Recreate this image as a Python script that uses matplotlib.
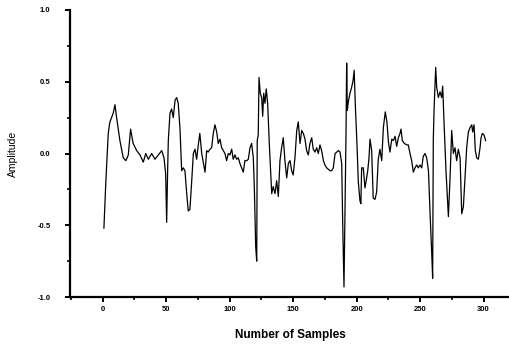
import matplotlib
matplotlib.use("Agg")
import matplotlib.pyplot as plt
from matplotlib.ticker import MultipleLocator, FormatStrFormatter

samples = [1, 2.5, 4.4, 5.7, 7, 8.3, 9.7, 11, 13.6, 16.2, 18.3, 20.2, 22, 24, 26.8, 29.4,
           32, 33.9, 36, 38.6, 41.2, 43.8, 46.5, 48.3, 49.6, 50.4, 51.2, 51.7, 53, 54.3,
           55.6, 57, 58.3, 59.5, 60.9, 62.2, 63.5, 64.8, 66.1, 67.4, 68.7, 70, 71.4, 72.7,
           74, 75.3, 76.5, 78, 79.2, 80.6, 81.9, 83.1, 84.5, 85.8, 87.1, 88.4, 89.8, 91,
           92.4, 93.7, 95, 96.3, 97.6, 98.9, 100.2, 101.6, 102.8, 104.2, 105.5, 106.8,
           108.1, 109.4, 110.7, 112, 113.4, 114.7, 116, 117.3, 118.6, 119.4, 120.5, 121.3,
           121.7, 122.5, 123.1, 124.1, 125.2, 126, 126.8, 127.8, 128.8, 129.9, 131.2,
           133.1, 134.3, 135.7, 137, 138.3, 139.6, 140.9, 142.2, 143.5, 144.9, 146.2,
           147.5, 148.8, 150, 151.4, 152.8, 154, 155.4, 156.7, 158, 159.3, 160.6, 161.9,
           163.2, 164.6, 165.8, 167.2, 168.5, 169.8, 171.1, 172.4, 173.8, 175, 176.4,
           177.7, 179, 180.3, 181.6, 183, 184.3, 185.6, 186.9, 188.2, 189, 190, 190.8,
           191.6, 192.1, 192.6, 193.4, 194.7, 196, 197.2, 198, 199, 200.2, 201.3, 202.6,
           203.3, 203.9, 205.2, 206.5, 207.3, 208.7, 209.7, 210.5, 211.8, 213, 214.4,
           215.7, 217, 218.3, 219.7, 221, 222.5, 223.8, 225, 226.2, 227.6, 228.9, 230.2,
           231.5, 232.8, 234.1, 234.9, 235.9, 237.5, 239.4, 240.6, 242, 243.3, 244.6,
           245.9, 247.2, 248.5, 249.8, 251.2, 252.4, 253.8, 255.1, 256.5, 257.7, 259.1,
           259.8, 260.3, 260.9, 261.7, 262.2, 263, 264.3, 265.6, 266.9, 267.7, 268.8,
           270.3, 272.2, 273.5, 274.8, 276.1, 277.4, 278.7, 280, 281.4, 282.7, 284, 285.3,
           286.6, 287.9, 289.2, 290.6, 291.3, 292.4, 293.4, 294.5, 295.8, 297.1, 297.9,
           298.9, 300.2, 301.5]

amplitude = [-0.52, -0.2, 0.14, 0.22, 0.25, 0.28, 0.34, 0.25, 0.09, -0.03, -0.05, -0.01,
             0.17, 0.07, 0.02, -0.01, -0.06, 0.0, -0.04, 0.0, -0.04, -0.01, 0.02, -0.03,
             -0.14, -0.48, -0.1, 0.09, 0.28, 0.31, 0.25, 0.37, 0.39, 0.35, 0.17, -0.12,
             -0.10, -0.12, -0.27, -0.40, -0.39, -0.21, 0.0, 0.03, -0.04, 0.06, 0.14, 0.0,
             -0.06, -0.13, 0.02, 0.01, 0.03, 0.04, 0.14, 0.20, 0.15, 0.07, 0.10, 0.04, 0.02,
             0.0, -0.05, 0.0, -0.01, 0.03, -0.04, -0.01, -0.04, -0.03, -0.07, -0.10, -0.13,
             -0.05, -0.05, -0.04, 0.04, 0.07, -0.03, -0.23, -0.65, -0.75, 0.09, 0.13, 0.53,
             0.42, 0.39, 0.26, 0.42, 0.35, 0.45, 0.35, 0.07, -0.28, -0.23, -0.28, -0.19,
             -0.30, -0.05, 0.04, 0.11, -0.05, -0.17, -0.07, -0.05, -0.12, -0.15, -0.03,
             0.16, 0.22, 0.07, 0.16, 0.14, 0.10, 0.02, -0.01, 0.07, 0.11, 0.03, 0.01, 0.04,
             0.0, 0.06, 0.02, -0.05, -0.08, -0.10, -0.11, -0.12, -0.12, -0.10, 0.0, 0.01,
             0.02, 0.01, -0.07, -0.49, -0.93, -0.40, 0.14, 0.63, 0.30, 0.36, 0.42, 0.46,
             0.51, 0.58, 0.32, 0.07, -0.20, -0.33, -0.35, -0.10, -0.10, -0.24, -0.20, -0.12,
             -0.03, 0.10, 0.02, -0.31, -0.32, -0.27, -0.04, 0.03, -0.05, 0.18, 0.29, 0.22,
             0.08, 0.01, 0.10, 0.09, 0.12, 0.05, 0.11, 0.14, 0.17, 0.09, 0.07, 0.06, 0.06,
             0.0, -0.05, -0.13, -0.10, -0.08, -0.10, -0.08, -0.10, -0.02, 0.0, -0.03, -0.12,
             -0.40, -0.70, -0.87, 0.09, 0.30, 0.49, 0.60, 0.46, 0.39, 0.43, 0.39, 0.47, 0.21,
             -0.12, -0.44, -0.17, 0.16, 0.0, 0.04, -0.05, 0.03, -0.03, -0.42, -0.37, -0.17,
             0.04, 0.15, 0.18, 0.20, 0.15, 0.20, 0.02, -0.03, -0.04, 0.04, 0.11, 0.14, 0.13,
             0.09]

x_ticks = [0, 50, 100, 150, 200, 250, 300]
y_ticks = [-1.0, -0.5, 0.0, 0.5, 1.0]

fig = plt.figure(figsize=(5.1, 3.5), dpi=100)
ax = fig.add_axes([70/510, 1 - 297/350, 440/510, 287/350])
ax.plot(samples, amplitude, color="black", linewidth=0.9)

ax.set_xlim(-25.7, 320.7)
ax.set_ylim(-1.0, 1.0)
ax.set_xticks(x_ticks)
ax.set_yticks(y_ticks)
ax.xaxis.set_minor_locator(MultipleLocator(25))
ax.yaxis.set_minor_locator(MultipleLocator(0.25))
ax.yaxis.set_major_formatter(FormatStrFormatter("%.1f"))

for s in ["top", "right"]:
    ax.spines[s].set_visible(False)
for s in ["left", "bottom"]:
    ax.spines[s].set_linewidth(1.6)

ax.tick_params(which="major", direction="out", length=3.6, width=1.4, labelsize=5.5)
ax.tick_params(axis="x", which="major", pad=3.2)
ax.tick_params(axis="y", which="major", pad=10.4)
ax.tick_params(which="minor", direction="out", length=2.2, width=1.2)
for lab in ax.get_xticklabels() + ax.get_yticklabels():
    lab.set_fontweight("bold")
    lab.set_family("Liberation Sans")

ax.set_xlabel("Number of Samples", fontsize=8.5, fontweight="bold",
              family="Liberation Sans", labelpad=11)
ax.set_ylabel("Amplitude", fontsize=7.5, family="Liberation Sans", labelpad=14)

fig.savefig("out.png", dpi=100)
